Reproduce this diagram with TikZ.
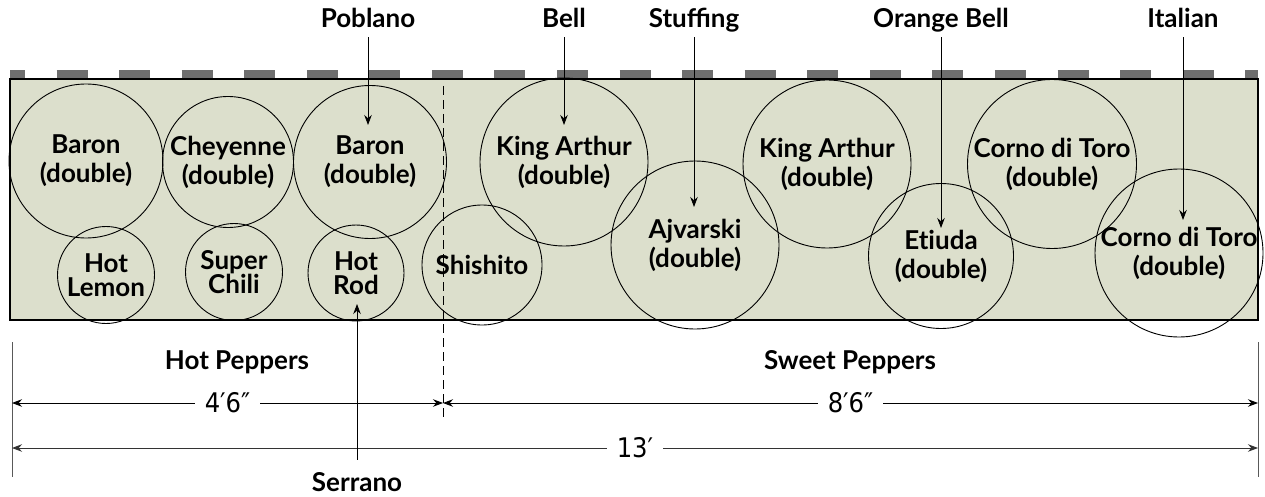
\documentclass[tikz,border=0pt]{standalone}
\usepackage{fontspec}
\setmainfont{Lato}
\newfontfamily\dimfont{DejaVu Sans Condensed}
\usetikzlibrary{arrows.meta}
\definecolor{bedfill}{HTML}{DCDFCC}
\definecolor{dashgray}{HTML}{6E6E6E}
\begin{document}
\begin{tikzpicture}[x=1pt,y=-1pt,
  plant/.style={circle, draw, line width=0.9pt, inner sep=0pt, align=center,
    font=\fontsize{26}{29}\selectfont\bfseries},
  small/.style={font=\fontsize{26}{24}\selectfont\bfseries},
  toplab/.style={font=\fontsize{26}{29}\selectfont\bfseries, anchor=base, inner sep=0pt, text depth=0pt},
  arr/.style={-{Stealth[length=10pt,width=7.5pt]}, line width=0.8pt},
  dimarr/.style={{Stealth[length=10pt,width=7.5pt]}-{Stealth[length=10pt,width=7.5pt]}, line width=0.9pt},
  dimtxt/.style={font=\dimfont\fontsize{27}{30}\selectfont, fill=white, inner xsep=10pt, inner ysep=1pt},
  extline/.style={line width=1pt, black!65},
]
\useasboundingbox (0,0) rectangle (1265,497);

% top dashed edge
\draw[dashgray, line width=9pt, dash pattern=on 31pt off 31.56pt, dash phase=16pt] (10,74.5) -- (1258,74.5);
% bed
\path[fill=bedfill] (10,79) rectangle (1258,320);

% plants
\node[plant, minimum size=154pt] (baronA) at (86,161) {Baron\\(double)};
\node[plant, minimum size=131pt] (cheyenne) at (228,162) {Cheyenne\\(double)};
\node[plant, minimum size=153pt] (baronB) at (370,162) {Baron\\(double)};
\node[plant, small, minimum size=97pt] (hotlemon) at (106,275) {Hot\\Lemon};
\node[plant, small, minimum size=97pt] (superchili) at (234,272) {Super\\Chili};
\node[plant, small, minimum size=96pt] (hotrod) at (356,273) {Hot\\Rod};
\node[plant, minimum size=120pt] (shishito) at (482,265) {Shishito};
\node[plant, minimum size=168pt] (kingA) at (564,162) {King Arthur\\(double)};
\node[plant, minimum size=168pt] (ajvarski) at (695,245) {Ajvarski\\(double)};
\node[plant, minimum size=168pt] (kingB) at (827,164) {King Arthur\\(double)};
\node[plant, minimum size=145pt] (etiuda) at (941,256) {Et\kern0pt iuda\\(double)};
\node[plant, minimum size=169pt] (cornoA) at (1052,164) {Corno di Toro\\(double)};
\node[plant, minimum size=168pt] (cornoB) at (1179,253) {Corno di Toro\\(double)};

% bed border
\draw[line width=2.5pt] (10,79) rectangle (1258,320);

% divider
\coordinate (divtop) at (443,86);
\coordinate (divbot) at (443,417);
\draw[dash pattern=on 9pt off 5pt, line width=0.9pt] (divtop) -- (divbot);

% top labels and arrows
\node[toplab] (poblano) at (368,28) {Poblano};
\node[toplab] (bell) at (564,28) {Bell};
\node[toplab] (stuffing) at (694,28) {Stuffing};
\node[toplab] (orange) at (941,28) {Orange Bell};
\node[toplab] (italian) at (1183,28) {Italian};
\coordinate (pobT) at (368,125);
\coordinate (bellT) at (564,125);
\coordinate (stufT) at (694,207);
\coordinate (orT) at (941,228);
\coordinate (italT) at (1183,220);
\draw[arr, shorten <=9pt] (poblano.south) -- (pobT);
\draw[arr, shorten <=9pt] (bell.south) -- (bellT);
\draw[arr, shorten <=9pt] (stuffing.south) -- (stufT);
\draw[arr, shorten <=9pt] (orange.south) -- (orT);
\draw[arr, shorten <=9pt] (italian.south) -- (italT);

% section labels
\node[toplab] (hotpep) at (237,369) {Hot Peppers};
\node[toplab] (sweetpep) at (850,369) {Sweet Peppers};

% extension lines
\coordinate (extLt) at (12,342);
\coordinate (extLb) at (12,477);
\coordinate (extRt) at (1258,342);
\coordinate (extRb) at (1258,477);
\draw[extline] (extLt) -- (extLb);
\draw[extline] (extRt) -- (extRb);

% dimensions
\coordinate (d1L) at (12,403);
\coordinate (d1M) at (443,403);
\coordinate (d1R) at (1258,403);
\coordinate (d2L) at (12,448);
\coordinate (d2R) at (1258,448);
\draw[dimarr] (d1L) -- node[dimtxt] (dimA) {4′6″} (d1M);
\draw[dimarr] (d1M) -- node[dimtxt] (dimB) {8′6″} (d1R);
\draw[dimarr, black!80] (d2L) -- node[dimtxt, text=black] (dimC) {13′} (d2R);

% Serrano
\node[toplab, text height=19pt] (serrano) at (357,491) {Serrano};
\coordinate (serT) at (357,304);
\draw[arr, shorten <=12pt] (serrano.north) -- (serT);
\end{tikzpicture}
\end{document}
